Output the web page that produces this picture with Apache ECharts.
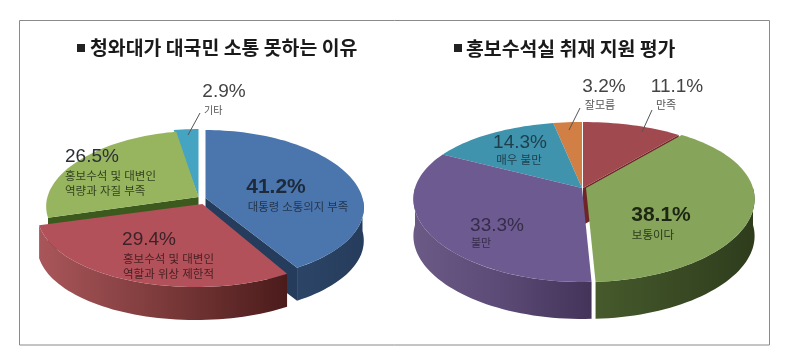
<!DOCTYPE html>
<html>
<head>
<meta charset="utf-8">
<script src="https://cdn.jsdelivr.net/npm/echarts@6/dist/echarts.min.js"></script>
<style>
html, body { margin: 0; padding: 0; background: #fff; }
#main { width: 794px; height: 364px; }
</style>
</head>
<body>
<div id="main"></div>
<script>
// values
const leftTitle = "청와대가 대국민 소통 못하는 이유";
const leftNames = ["대통령 소통의지 부족", "홍보수석 및 대변인\n역할과 위상 제한적", "홍보수석 및 대변인\n역량과 자질 부족", "기타"];
const leftValues = [41.2, 29.4, 26.5, 2.9];

const rightTitle = "홍보수석실 취재 지원 평가";
const rightNames = ["만족", "보통이다", "불만", "매우 불만", "잘모름"];
const rightValues = [11.1, 38.1, 33.3, 14.3, 3.2];

// pie geometry, fake perspective: k widens the front, squash bends the ellipse
const leftPie = { cx: 205.5, cy: 198, a: 157, b: 75.5, squash: 0.1, k: 0.13, depth: 33 };
const rightPie = { cx: 582, cy: 188, a: 167, b: 80, squash: 0.175, k: 0.14, depth: 37 };

// per slice look, same order as the values. order = paint order
// off moves the arc, tip moves the point of the slice (defaults to off)
const leftStyle = [
  { top: "#4b75ad", side: ["#2c4566", "#263c5c"], wall: "#263c5c", wallAt: "end", off: [0, 0] },
  { top: "#b3515a", side: ["#a9565a", "#7c3a3a", "#4b1b1b"], off: [-10, 6], tip: [-3, 6] },
  { top: "#97b45f", wall: "#3c5a1e", wallAt: "start", off: [-5, -1], tip: [-7, -1], grow: 0.975 },
  { top: "#45a4c2", side: ["#2d7c94", "#2d7c94"], off: [-7, -1] }
];
const leftOrder = [3, 2, 0, 1];

const rightStyle = [
  { top: "#a04a50", side: ["#6f2528", "#6f2528"], wall: "#6f2528", wallAt: "end", off: [1, 0] },
  { top: "#86a45a", side: ["#465a2c", "#2e3c1c"], off: [4, 0] },
  { top: "#6d5a90", side: ["#6b5a85", "#5a4a75", "#44345a"], off: [0, 0] },
  { top: "#3f93ad", side: ["#2b6c80", "#2b6c80"], off: [0, 0] },
  { top: "#d17f45", side: ["#96592d", "#96592d"], off: [0, 0] }
];
const rightOrder = [0, 4, 3, 1, 2];

function project(p, deg, s, drop) {
  const t = deg * Math.PI / 180;
  const z = Math.cos(t);
  const grow = s.grow || 1;
  return [
    p.cx + s.off[0] + grow * p.a * Math.sin(t) * (1 - p.k * z),
    p.cy + s.off[1] + drop - grow * p.b * z * (1 - p.squash * z)
  ];
}

function arc(p, from, to, s, drop) {
  const pts = [];
  const n = Math.max(2, Math.ceil(Math.abs(to - from) / 2));
  for (let i = 0; i <= n; i++) {
    pts.push(project(p, from + (to - from) * i / n, s, drop));
  }
  return pts;
}

function makeRenderer(pie, styles) {
  return function (params, api) {
    const s = styles[api.value(0)];
    const from = api.value(1) * 3.6;
    const to = api.value(2) * 3.6;
    const tip = s.tip || s.off;
    const apex = [pie.cx + tip[0], pie.cy + tip[1]];
    const kids = [];
    // cut face of the slice
    if (s.wallAt) {
      const deg = s.wallAt === "end" ? to : from;
      const edge = project(pie, deg, s, 0);
      kids.push({
        type: "polygon",
        shape: { points: [apex, edge, [edge[0], edge[1] + pie.depth], [apex[0], apex[1] + pie.depth]] },
        style: { fill: s.wall }
      });
    }
    // outer rim, only the part that faces us
    const rimFrom = Math.max(from, 90);
    const rimTo = Math.min(to, 270);
    if (s.side && rimTo > rimFrom) {
      const upper = arc(pie, rimFrom, rimTo, s, 0);
      const lower = arc(pie, rimTo, rimFrom, s, pie.depth);
      const stops = s.side.map((c, i) => ({ offset: i / (s.side.length - 1), color: c }));
      kids.push({
        type: "polygon",
        shape: { points: upper.concat(lower) },
        style: { fill: { type: "linear", x: 0, y: 0, x2: 1, y2: 0, colorStops: stops } }
      });
    }
    kids.push({
      type: "polygon",
      shape: { points: [apex].concat(arc(pie, from, to, s, 0)) },
      style: { fill: s.top }
    });
    return { type: "group", children: kids };
  };
}

function sliceRows(values, order) {
  const starts = [];
  let sum = 0;
  values.forEach(v => { starts.push(sum); sum += v; });
  return order.map(i => [i, starts[i], starts[i] + values[i]]);
}

function pct(v) {
  return v.toFixed(1) + "%";
}

function label(x, y, text, size, align, color, weight) {
  return {
    type: "text",
    x: x,
    y: y,
    z: 10,
    style: {
      text: text,
      x: 0,
      y: 0,
      align: align,
      verticalAlign: "middle",
      fill: color,
      lineHeight: 15,
      font: (weight || "normal") + " " + size + 'px "Liberation Sans", "Noto Sans CJK KR", sans-serif'
    }
  };
}

function title(x, y, text) {
  return {
    type: "text", x: x, y: y, z: 10,
    style: { text: text, x: 0, y: 0, verticalAlign: "middle", fill: "#1a1a1a", font: 'bold 19.4px "Noto Sans CJK KR", sans-serif' }
  };
}

function bullet(x, y) {
  return { type: "rect", z: 10, shape: { x: x, y: y, width: 8, height: 8 }, style: { fill: "#222" } };
}

function leader(x1, y1, x2, y2) {
  return {
    type: "line",
    z: 10,
    shape: { x1: x1, y1: y1, x2: x2, y2: y2 },
    style: { stroke: "#555", lineWidth: 1 }
  };
}

const numDark = "#2b3038";

const chart = echarts.init(document.getElementById("main"));
chart.setOption({
  backgroundColor: "#fff",
  animation: false,
  graphic: [
    {
      type: "rect",
      z: 0,
      shape: { x: 19.5, y: 20.5, width: 750, height: 324.5 },
      style: { fill: "#fff", stroke: "#8a8a8a", lineWidth: 1 }
    },
    bullet(77, 44),
    title(90, 48, leftTitle),
    bullet(454, 44),
    title(466, 49, rightTitle),

    label(276, 187, pct(leftValues[0]), 21, "center", "#1d2a3c", "bold"),
    label(298, 208, leftNames[0], 11.4, "center", "#24364e"),
    label(149, 240, pct(leftValues[1]), 19, "center", "#3a2328"),
    label(123, 267.5, leftNames[1], 11.5, "left", "#4a2024"),
    label(65, 157, pct(leftValues[2]), 19, "left", numDark),
    label(65, 184.5, leftNames[2], 11.5, "left", "#33421f"),
    label(224, 92, pct(leftValues[3]), 19, "center", "#444"),
    label(204, 111, leftNames[3], 10, "left", "#555"),
    leader(200, 113, 188, 135),

    label(604, 87, pct(rightValues[4]), 19, "center", "#444"),
    label(600, 106, rightNames[4], 11, "center", "#555"),
    leader(580, 108, 569, 130),
    label(677, 87, pct(rightValues[0]), 19, "center", "#444"),
    label(666, 106, rightNames[0], 11, "center", "#555"),
    leader(652, 110, 642, 132),
    label(520, 143, pct(rightValues[3]), 19, "center", "#1f3e4c"),
    label(519, 161, rightNames[3], 11.5, "center", "#1f3e4c"),
    label(497, 226, pct(rightValues[2]), 19, "center", "#352c4a"),
    label(481, 244, rightNames[2], 11, "center", "#352c4a"),
    label(661, 215, pct(rightValues[1]), 21, "center", "#1c2612", "bold"),
    label(653, 236, rightNames[1], 11.5, "center", "#2c3a1c")
  ],
  series: [
    {
      type: "custom",
      coordinateSystem: "none",
      z: 2,
      renderItem: makeRenderer(leftPie, leftStyle),
      data: sliceRows(leftValues, leftOrder)
    },
    {
      type: "custom",
      coordinateSystem: "none",
      z: 2,
      renderItem: makeRenderer(rightPie, rightStyle),
      data: sliceRows(rightValues, rightOrder)
    }
  ]
});
</script>
</body>
</html>
